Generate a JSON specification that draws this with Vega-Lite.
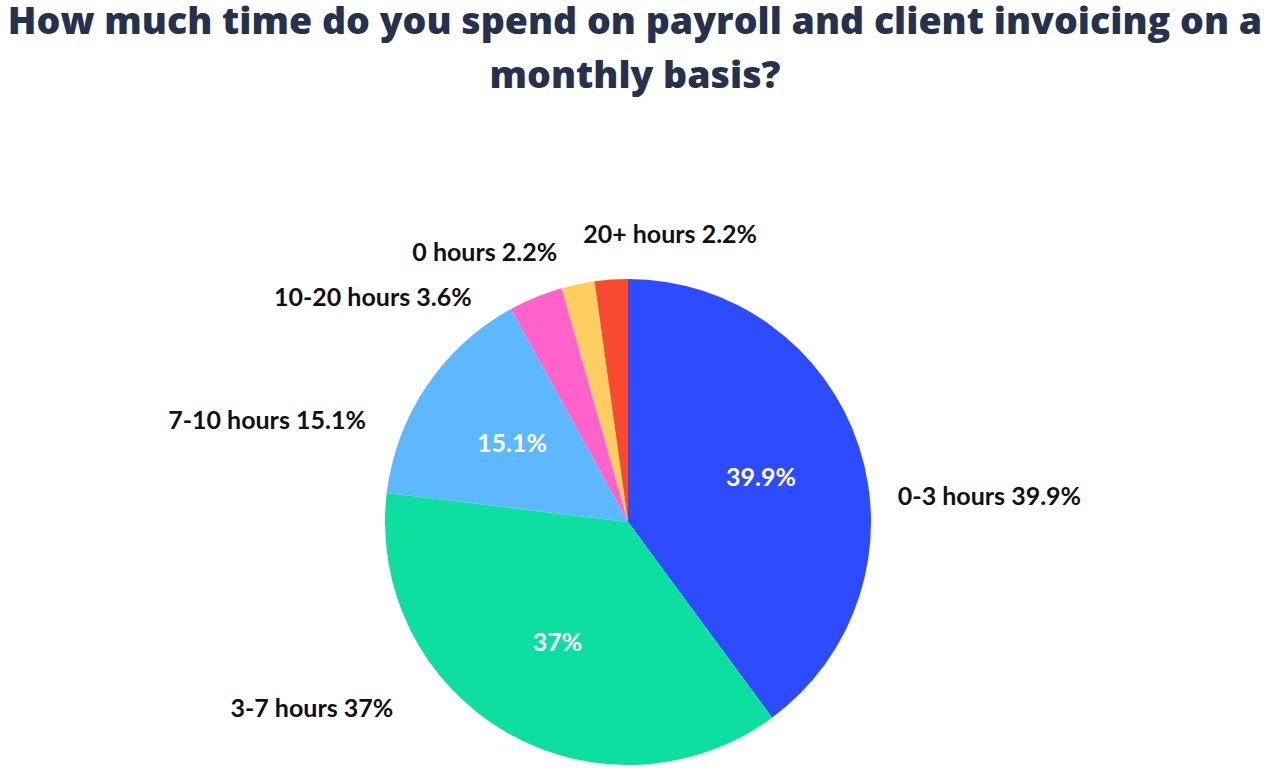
{
  "$schema": "https://vega.github.io/schema/vega-lite/v6.json",
  "width": 1256,
  "height": 492,
  "autosize": "none",
  "padding": {"top": 276, "left": 0, "right": 14, "bottom": 0},
  "background": "white",
  "title": {
    "text": ["How much time do you spend on payroll and client invoicing on a", "monthly basis?"],
    "font": "Open Sans",
    "fontSize": 37.5,
    "fontWeight": 800,
    "color": "#26304F",
    "anchor": "middle",
    "frame": "group",
    "lineHeight": 54,
    "offset": 115,
    "dx": 7
  },
  "data": {
    "values": [
      {"answer": "0-3 hours", "pct": 39.9},
      {"answer": "3-7 hours", "pct": 37},
      {"answer": "7-10 hours", "pct": 15.1},
      {"answer": "10-20 hours", "pct": 3.6},
      {"answer": "0 hours", "pct": 2.2},
      {"answer": "20+ hours", "pct": 2.2}
    ]
  },
  "transform": [
    {"window": [{"op": "row_number", "as": "idx"}]},
    {"calculate": "datum.answer + ' ' + datum.pct + '%'", "as": "outer"},
    {"calculate": "datum.pct + '%'", "as": "inner"}
  ],
  "encoding": {
    "theta": {"field": "pct", "type": "quantitative", "stack": true},
    "order": {"field": "idx", "type": "quantitative"}
  },
  "layer": [
    {
      "mark": {"type": "arc", "outerRadius": 243},
      "encoding": {
        "color": {
          "field": "answer",
          "type": "nominal",
          "scale": {
            "domain": ["0-3 hours", "3-7 hours", "7-10 hours", "10-20 hours", "0 hours", "20+ hours"],
            "range": ["#2D4CFF", "#0CDFA0", "#5DB8FF", "#FF63C9", "#FCCE62", "#F9492E"]
          },
          "legend": null
        }
      }
    },
    {
      "mark": {"type": "text", "radius": 140, "font": "Lato", "fontSize": 25, "fontWeight": "bold", "fill": "white", "align": "center", "baseline": "middle"},
      "encoding": {
        "text": {"condition": {"test": "datum.pct < 10", "value": ""}, "field": "inner", "type": "nominal"}
      }
    },
    {
      "mark": {"type": "text", "radius": 271, "thetaOffset": 0.225, "font": "Lato", "fontSize": 25, "fontWeight": "bold", "fill": "#111111", "align": "left", "baseline": "middle"},
      "encoding": {
        "text": {"condition": {"test": "datum.answer != '0-3 hours'", "value": ""}, "field": "outer", "type": "nominal"}
      }
    },
    {
      "mark": {"type": "text", "radius": 290, "thetaOffset": -0.086, "font": "Lato", "fontSize": 25, "fontWeight": "bold", "fill": "#111111", "align": "left", "baseline": "middle"},
      "encoding": {
        "text": {"condition": {"test": "datum.answer != '20+ hours'", "value": ""}, "field": "outer", "type": "nominal"}
      }
    },
    {
      "mark": {"type": "text", "radius": 278, "thetaOffset": -0.05, "font": "Lato", "fontSize": 25, "fontWeight": "bold", "fill": "#111111", "align": "right", "baseline": "middle"},
      "encoding": {
        "text": {"condition": {"test": "datum.answer != '0 hours'", "value": ""}, "field": "outer", "type": "nominal"}
      }
    },
    {
      "mark": {"type": "text", "radius": 273, "thetaOffset": -0.22, "font": "Lato", "fontSize": 25, "fontWeight": "bold", "fill": "#111111", "align": "right", "baseline": "middle"},
      "encoding": {
        "text": {"condition": {"test": "datum.answer != '10-20 hours'", "value": ""}, "field": "outer", "type": "nominal"}
      }
    },
    {
      "mark": {"type": "text", "radius": 281, "thetaOffset": -0.225, "font": "Lato", "fontSize": 25, "fontWeight": "bold", "fill": "#111111", "align": "right", "baseline": "middle"},
      "encoding": {
        "text": {"condition": {"test": "datum.answer != '7-10 hours'", "value": ""}, "field": "outer", "type": "nominal"}
      }
    },
    {
      "mark": {"type": "text", "radius": 300, "thetaOffset": 0.371, "font": "Lato", "fontSize": 25, "fontWeight": "bold", "fill": "#111111", "align": "right", "baseline": "middle"},
      "encoding": {
        "text": {"condition": {"test": "datum.answer != '3-7 hours'", "value": ""}, "field": "outer", "type": "nominal"}
      }
    }
  ]
}
